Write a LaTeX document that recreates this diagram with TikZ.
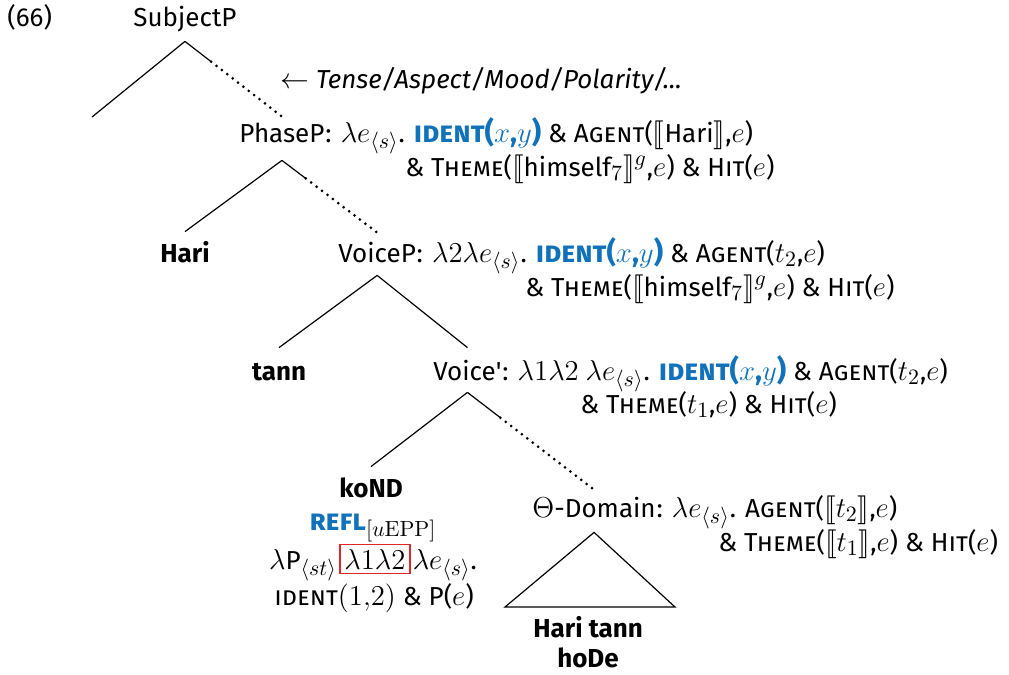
\documentclass[tikz,border=0pt]{standalone}
\usepackage[no-math]{fontspec}
\setmainfont{Fira Sans}
\usepackage{stmaryrd}
\usetikzlibrary{positioning,calc}

\definecolor{identblue}{RGB}{17,114,186}
\definecolor{boxred}{RGB}{220,40,40}
\setlength{\fboxsep}{1.8pt}
\setlength{\fboxrule}{0.9pt}
\DeclareMathSizes{13}{15}{11}{8}

% IDENT(x,y) in blue
\newcommand{\bigbf}{\fontsize{14.5}{16}\selectfont\bfseries}
\newcommand{\identxy}{\textcolor{identblue}{{\bigbf\textsc{ident}(}$x${\bigbf,}$y${\bigbf)}}}
\newcommand{\lames}{$\lambda e_{\langle s\rangle}$}

\begin{document}
\fontsize{13}{16}\selectfont
\begin{tikzpicture}[x=0.5pt, y=-0.5pt,
        % 樣式
        every node/.style={inner sep=0pt},
        txt/.style={anchor=base west},
        cat/.style={anchor=base west, text height=9.5pt, text depth=0pt},
        leaf/.style={anchor=base, font=\bfseries, text height=9.5pt, text depth=0pt},
        branch/.style={line width=0.6pt},
        trace/.style={line width=1.5pt, line cap=round, dash pattern=on 0pt off 3.4pt}
    ]
    \useasboundingbox (0,0) rectangle (1009,675);

    % --- SubjectP ---
    \node[txt] (exno) at (7,26) {(66)};
    \node[cat] (subjp) at (133,26) {SubjectP};
    \node[txt] (tam) at (280,88) {$\leftarrow$ \textit{Tense/Aspect/Mood/Polarity/...}};

    % --- PhaseP ---
    \node[cat] (phasep) at (239,142) {PhaseP};
    \node[txt, base right=0pt of phasep] (phasesem) {: \lames. \identxy{} \& \textsc{Agent}($\llbracket$Hari$\rrbracket$,$e$)};
    \node[txt] (phasesem2) at (405,176) {\& \textsc{Theme}($\llbracket$himself$_7\rrbracket^g$,$e$) \& \textsc{Hit}($e$)};
    \node[leaf] (hari) at (185,262) {Hari};

    % --- VoiceP ---
    \node[cat] (voicep) at (338,262) {VoiceP};
    \node[txt, base right=0pt of voicep] (voicepsem) {: $\lambda2$\lames. \identxy{} \& \textsc{Agent}($t_2$,$e$)};
    \node[txt] (voicepsem2) at (525,296) {\& \textsc{Theme}($\llbracket$himself$_7\rrbracket^g$,$e$) \& \textsc{Hit}($e$)};
    \node[leaf] (tann) at (279,380) {tann};

    % --- Voice' ---
    \node[cat] (voicebar) at (433,380) {Voice\textquotesingle};
    \node[txt, base right=0pt of voicebar] (voicebarsem) {: $\lambda1\lambda2\ \lambda e_{\langle s\rangle}$. \identxy{} \& \textsc{Agent}($t_2$,$e$)};
    \node[txt] (voicebarsem2) at (580,413) {\& \textsc{Theme}($t_1$,$e$) \& \textsc{Hit}($e$)};

    % --- koND ---
    \node[leaf] (kond) at (371,497) {koND};
    \node[anchor=base] (refl) at (373,530) {\textcolor{identblue}{\bigbf\textsc{refl}}$_{[u\mathrm{EPP}]}$};
    \node[anchor=base] (kondlam) at (373,569) {$\lambda$P$_{\langle st\rangle}$\kern1pt{\color{boxred}\fbox{\color{black}$\lambda1\lambda2$}}\kern1pt\lames.};
    \node[anchor=base] (kondid) at (374,605) {\textsc{ident}$(1{,}2)$ \& P($e$)};

    % --- Theta-Domain ---
    \node[cat] (thetad) at (532,517) {$\Theta$-Domain};
    \node[txt, base right=0pt of thetad] (thetadsem) {: \lames. \textsc{Agent}($\llbracket t_2\rrbracket$,$e$)};
    \node[txt] (thetadsem2) at (718,551) {\& \textsc{Theme}($\llbracket t_1\rrbracket$,$e$) \& \textsc{Hit}($e$)};
    \node[leaf] (haritann) at (588,637) {Hari tann};
    \node[leaf] (hode) at (588,667) {hoDe};

    % --- 樹枝 ---
    \coordinate (subjp-b) at ([yshift=-7.5pt]subjp.south);
    \coordinate (subjp-l) at (92,117);
    \coordinate (phasep-t) at ([yshift=3pt]phasep.north);
    \coordinate (phasep-b) at ([yshift=-9pt]phasep.south);
    \coordinate (hari-t) at ([yshift=5.5pt]hari.north);
    \coordinate (voicep-t) at ([yshift=5pt]voicep.north);
    \coordinate (voicep-b) at ([yshift=-6.5pt]voicep.south);
    \coordinate (tann-t) at ([yshift=6.5pt]tann.north);
    \coordinate (voicebar-t) at ([yshift=6.5pt]voicebar.north);
    \coordinate (voicebar-b) at ([yshift=-6pt]voicebar.south);
    \coordinate (kond-t) at ([yshift=5.5pt]kond.north);
    \coordinate (thetad-t) at ([yshift=4pt]thetad.north);
    \coordinate (thetad-b) at ([yshift=-7.5pt]thetad.south);

    \draw[branch] (subjp-b) -- (subjp-l);
    \draw[branch] (subjp-b) -- ($(subjp-b)!.27!(phasep-t)$) coordinate (subjp-m);
    \draw[trace] (subjp-m) -- (phasep-t);

    \draw[branch] (phasep-b) -- (hari-t);
    \draw[branch] (phasep-b) -- ($(phasep-b)!.25!(voicep-t)$) coordinate (phasep-m);
    \draw[trace] (phasep-m) -- (voicep-t);

    \draw[branch] (voicep-b) -- (tann-t);
    \draw[branch] (voicep-b) -- (voicebar-t);

    \draw[branch] (voicebar-b) -- (kond-t);
    \draw[branch] (voicebar-b) -- ($(voicebar-b)!.26!(thetad-t)$) coordinate (voicebar-m);
    \draw[trace] (voicebar-m) -- (thetad-t);

    % 三角形
    \draw[branch] (thetad-b) -- (505,607) -- (675,607) -- cycle;

\end{tikzpicture}
\end{document}
